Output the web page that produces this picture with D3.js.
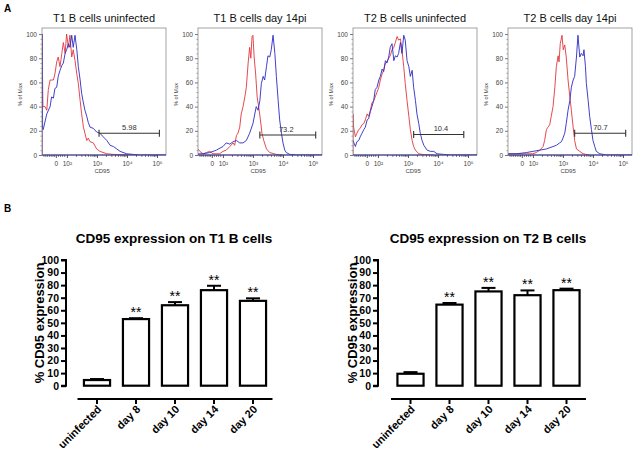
<!DOCTYPE html>
<html><head><meta charset="utf-8">
<script src="https://cdn.jsdelivr.net/npm/d3@7"></script>
<style>body{margin:0;background:#fff} svg{display:block;font-family:"Liberation Sans",Arial,sans-serif}</style>
</head><body>
<svg id="c" width="638" height="451"></svg>
<script>
// ---------- DATA ----------
// Panel A: histograms, x in display units (10^k -> k, "0" -> 1.63), y in % of Max
const flowTitles = ["T1 B cells uninfected", "T1 B cells day 14pi", "T2 B cells uninfected", "T2 B cells day 14pi"];
const flowXTickValues = [1.63, 2, 3, 4, 5];
const flowXTickLabels = ["0", "10\u00B2", "10\u00B3", "10\u2074", "10\u2075"];
const flowXMinorTicks = [1.22, 1.28, 1.34, 1.40, 1.46, 1.52, 1.57, 1.70, 1.77, 1.84, 1.91,
  2.30, 2.48, 2.60, 2.70, 2.78, 2.85, 2.90, 2.95,
  3.30, 3.48, 3.60, 3.70, 3.78, 3.85, 3.90, 3.95,
  4.30, 4.48, 4.60, 4.70, 4.78, 4.85, 4.90, 4.95];
const flowYTicks = [0, 20, 40, 60, 80, 100];
const flowYMinorTicks = [4, 8, 12, 16, 24, 28, 32, 36, 44, 48, 52, 56, 64, 68, 72, 76, 84, 88, 92, 96];

const p1Red = [[1.17,0],[1.17,100],[1.20,40],[1.27,40],[1.33,37],[1.38,54],[1.44,62],[1.55,62],[1.60,67],[1.66,77],[1.71,81],[1.77,73],[1.83,84],[1.88,93],[1.94,84],[1.99,100],[2.05,89],[2.10,99],[2.16,81],[2.21,87],[2.27,78],[2.33,67],[2.38,59],[2.44,45],[2.49,34],[2.55,23],[2.60,18],[2.66,12],[2.71,14],[2.77,11],[2.88,10],[2.99,5],[3.10,3],[3.33,1],[3.55,0.5],[4.21,0]];
const p1Blue = [[1.17,0],[1.17,100],[1.19,22],[1.21,21],[1.33,34],[1.44,40],[1.49,48],[1.55,47],[1.60,55],[1.66,56],[1.71,65],[1.77,70],[1.83,74],[1.88,76],[1.94,84],[1.99,87],[2.05,92],[2.10,89],[2.16,99],[2.21,89],[2.27,99],[2.33,87],[2.38,73],[2.44,62],[2.49,51],[2.55,43],[2.60,37],[2.66,32],[2.71,27],[2.77,23],[2.88,22],[2.99,19],[3.10,18],[3.21,15],[3.33,12],[3.44,8],[3.55,7],[3.66,5],[3.77,3],[3.99,1],[4.21,0.5],[4.44,0],[5.3,0]];
const p2Red = [[1.17,5],[1.23,3],[1.34,1],[1.45,2],[1.56,3],[1.67,1],[1.78,1],[1.89,1],[2.00,3],[2.11,4],[2.23,7],[2.34,10],[2.39,8],[2.45,16],[2.50,18],[2.56,23],[2.61,34],[2.67,40],[2.73,48],[2.78,56],[2.84,76],[2.89,89],[2.93,80],[2.97,98],[3.00,99],[3.04,81],[3.09,67],[3.14,48],[3.19,40],[3.25,29],[3.30,18],[3.36,12],[3.45,5],[3.56,2],[3.78,0.5],[4.00,0]];
const p2Blue = [[1.17,1],[1.34,1],[1.56,2],[1.78,4],[2.00,7],[2.11,10],[2.23,9],[2.34,11],[2.45,12],[2.56,10],[2.67,10],[2.78,12],[2.89,18],[3.00,26],[3.11,40],[3.17,37],[3.23,45],[3.28,59],[3.34,65],[3.39,62],[3.45,73],[3.50,82],[3.56,81],[3.61,87],[3.67,99],[3.73,84],[3.78,65],[3.84,45],[3.89,29],[3.95,18],[4.00,10],[4.06,4],[4.11,2],[4.23,0.5],[4.45,0],[5.3,0]];
const p3Red = [[1.17,0],[1.17,34],[1.19,23],[1.25,15],[1.30,18],[1.36,21],[1.41,22],[1.47,25],[1.53,26],[1.58,29],[1.64,34],[1.69,32],[1.75,37],[1.80,43],[1.86,45],[1.91,48],[1.97,52],[2.03,56],[2.08,62],[2.14,67],[2.19,70],[2.25,76],[2.30,77],[2.36,80],[2.41,82],[2.47,87],[2.53,89],[2.58,93],[2.64,98],[2.69,95],[2.75,96],[2.80,87],[2.86,73],[2.91,59],[2.97,45],[3.03,32],[3.08,21],[3.14,12],[3.19,7],[3.25,4],[3.36,1],[3.53,0.3],[3.86,0]];
const p3Blue = [[1.17,12],[1.25,7],[1.30,11],[1.36,12],[1.41,15],[1.47,18],[1.53,21],[1.58,23],[1.64,29],[1.69,30],[1.75,36],[1.80,40],[1.86,45],[1.91,54],[1.97,56],[2.03,62],[2.08,65],[2.14,71],[2.19,69],[2.25,78],[2.30,76],[2.36,81],[2.41,89],[2.47,92],[2.53,78],[2.58,82],[2.64,81],[2.69,84],[2.75,93],[2.80,84],[2.86,99],[2.91,95],[2.97,78],[3.03,73],[3.08,65],[3.14,70],[3.19,56],[3.25,45],[3.30,34],[3.36,26],[3.41,18],[3.47,12],[3.53,8],[3.64,4],[3.75,3],[3.86,3],[3.97,1],[4.19,0.5],[4.41,0],[5.3,0]];
const p4Red = [[1.17,1],[1.34,1],[1.56,1],[1.78,1],[2.00,1],[2.11,2],[2.23,4],[2.34,7],[2.39,12],[2.45,21],[2.50,23],[2.56,25],[2.61,32],[2.67,40],[2.73,56],[2.78,73],[2.84,82],[2.87,77],[2.91,92],[2.97,99],[3.01,87],[3.06,91],[3.11,81],[3.17,62],[3.23,48],[3.28,37],[3.34,23],[3.39,12],[3.45,5],[3.56,3],[3.67,1],[3.89,0]];
const p4Blue = [[1.17,1],[1.45,1],[1.78,2],[2.00,3],[2.23,4],[2.45,5],[2.67,7],[2.78,8],[2.89,10],[2.95,11],[3.00,14],[3.06,18],[3.11,26],[3.17,37],[3.23,45],[3.28,56],[3.34,62],[3.39,65],[3.45,81],[3.50,99],[3.56,81],[3.61,84],[3.67,82],[3.70,87],[3.75,73],[3.78,59],[3.84,45],[3.89,32],[3.95,21],[4.00,12],[4.06,7],[4.11,3],[4.23,1],[4.45,0],[5.3,0]];
const flowRed = [p1Red, p2Red, p3Red, p4Red];
const flowBlue = [p1Blue, p2Blue, p3Blue, p4Blue];
const gateStarts = [3.07, 3.23, 3.19, 3.39];
const gateEnds = [5.08, 5.09, 4.86, 5.09];
const gateLevels = [18, 16.5, 17, 18];
const gateLabels = ["5.98", "73.2", "10.4", "70.7"];
const gateLabelPos = [4.08, 4.11, 4.10, 4.25];

// Panel B: bar charts
const barCategories = ["uninfected", "day 8", "day 10", "day 14", "day 20"];
const barTitles = ["CD95 expression on T1 B cells", "CD95 expression on T2 B cells"];
const t1Means = [4.5, 53, 64, 76, 67.5];
const t1Errors = [0.8, 0.7, 2.5, 3.5, 2];
const t2Means = [9.5, 64.5, 75, 72, 76];
const t2Errors = [1.3, 1.3, 2.8, 3.8, 1.2];
const t1Signif = ["", "**", "**", "**", "**"];
const t2Signif = ["", "**", "**", "**", "**"];
const barYTicks = [0,10,20,30,40,50,60,70,80,90,100];

// ---------- DRAW ----------
const svg = d3.select("#c");
const RED = "#e2363c", BLUE = "#2a2ac4";

svg.append("text").attr("x", 4).attr("y", 12).attr("font-size", 10).attr("font-weight", "bold").text("A");
svg.append("text").attr("x", 4).attr("y", 212).attr("font-size", 10).attr("font-weight", "bold").text("B");

const flowLefts = [42, 198, 353, 508];
const FW = 124, FTOP = 28, FBOT = 155;

flowTitles.forEach((title, i) => {
  const L = flowLefts[i];
  const x = d3.scaleLinear().domain([1.17, 5.30]).range([L, L + FW]);
  const y = d3.scaleLinear().domain([0, 105]).range([FBOT, FTOP]);
  const g = svg.append("g");

  g.append("text").attr("x", L + FW / 2).attr("y", 22).attr("text-anchor", "middle")
    .attr("font-size", 11).attr("fill", "#111").text(title);

  const clipId = "clip" + i;
  g.append("clipPath").attr("id", clipId).append("rect")
    .attr("x", L).attr("y", FTOP - 1).attr("width", FW).attr("height", FBOT - FTOP + 1);

  const line = d3.line().x(d => x(d[0])).y(d => y(d[1]));
  g.append("path").datum(flowRed[i]).attr("d", line).attr("fill", "none")
    .attr("stroke", RED).attr("stroke-width", 0.9).attr("clip-path", `url(#${clipId})`);
  g.append("path").datum(flowBlue[i]).attr("d", line).attr("fill", "none")
    .attr("stroke", BLUE).attr("stroke-width", 0.9).attr("clip-path", `url(#${clipId})`);

  g.append("rect").attr("x", L).attr("y", FTOP).attr("width", FW).attr("height", FBOT - FTOP)
    .attr("fill", "none").attr("stroke", "#8c8c8c").attr("stroke-width", 0.8);

  // y axis
  const ya = g.append("g").attr("transform", `translate(${L},0)`)
    .call(d3.axisLeft(y).tickValues(flowYTicks).tickSize(3).tickPadding(2));
  ya.select(".domain").remove();
  ya.selectAll("line").attr("stroke", "#777");
  ya.selectAll("text").attr("font-size", 6.5).attr("fill", "#444").attr("font-family", "Liberation Sans, Arial");
  const yam = g.append("g").attr("transform", `translate(${L},0)`)
    .call(d3.axisLeft(y).tickValues(flowYMinorTicks).tickSize(1.5).tickFormat(""));
  yam.select(".domain").remove();
  yam.selectAll("line").attr("stroke", "#999");

  // x axis
  const xa = g.append("g").attr("transform", `translate(0,${FBOT})`)
    .call(d3.axisBottom(x).tickValues(flowXTickValues).tickSize(3).tickPadding(3)
      .tickFormat((d, k) => flowXTickLabels[k]));
  xa.select(".domain").remove();
  xa.selectAll("line").attr("stroke", "#555");
  xa.selectAll("text").attr("font-size", 6.5).attr("fill", "#444").attr("font-family", "Liberation Sans, Arial");
  const xam = g.append("g").attr("transform", `translate(0,${FBOT})`)
    .call(d3.axisBottom(x).tickValues(flowXMinorTicks).tickSize(1.8).tickFormat(""));
  xam.select(".domain").remove();
  xam.selectAll("line").attr("stroke", "#666");
  g.append("line").attr("x1", L).attr("x2", L + FW).attr("y1", FBOT).attr("y2", FBOT)
    .attr("stroke", "#2a2a8a").attr("stroke-width", 1);

  g.append("text").attr("x", x(3.17)).attr("y", 173).attr("text-anchor", "middle")
    .attr("font-size", 6).attr("fill", "#444").text("CD95");
  g.append("text").attr("transform", `translate(${L - 20},${(FTOP + FBOT) / 2 + 3}) rotate(-90)`)
    .attr("text-anchor", "middle").attr("font-size", 5.5).attr("fill", "#444").text("% of Max");

  // gate
  const gy = y(gateLevels[i]);
  g.append("line").attr("x1", x(gateStarts[i])).attr("x2", x(gateEnds[i])).attr("y1", gy).attr("y2", gy)
    .attr("stroke", "#333").attr("stroke-width", 1.1);
  [gateStarts[i], gateEnds[i]].forEach(v => {
    g.append("line").attr("x1", x(v)).attr("x2", x(v)).attr("y1", gy - 3.5).attr("y2", gy + 3.5)
      .attr("stroke", "#333").attr("stroke-width", 1.1);
  });
  g.append("text").attr("x", x(gateLabelPos[i])).attr("y", gy - 3).attr("text-anchor", "middle")
    .attr("font-size", 7.5).attr("fill", "#333").text(gateLabels[i]);
});

// bar charts
const barCharts = [
  { axisX: 66, xr: [77.5, 272.5], titleX: 174, ylabX: 44, means: t1Means, errs: t1Errors, sig: t1Signif, title: barTitles[0] },
  { axisX: 378, xr: [391, 586], titleX: 488, ylabX: 357, means: t2Means, errs: t2Errors, sig: t2Signif, title: barTitles[1] }
];
barCharts.forEach(c => {
  const g = svg.append("g");
  const y = d3.scaleLinear().domain([0, 100]).range([385.7, 260]);
  const x = d3.scaleBand().domain(barCategories).range(c.xr).paddingInner(0.33).paddingOuter(0.165);

  g.append("text").attr("x", c.titleX).attr("y", 243).attr("text-anchor", "middle")
    .attr("font-size", 13.5).attr("font-weight", "bold").attr("fill", "#000").text(c.title);

  const ya = g.append("g").attr("transform", `translate(${c.axisX},0)`)
    .call(d3.axisLeft(y).tickValues(barYTicks).tickSize(5).tickPadding(2));
  ya.select(".domain").attr("stroke", "#000").attr("stroke-width", 2);
  ya.selectAll("line").attr("stroke", "#000").attr("stroke-width", 2);
  ya.selectAll("text").attr("font-size", 10.5).attr("font-weight", "bold").attr("fill", "#000")
    .attr("font-family", "Liberation Sans, Arial");
  ya.select(".domain").attr("d", `M-5,${y(100)}H0V${y(0)}H-5`);

  g.append("text").attr("transform", `translate(${c.ylabX},${323}) rotate(-90)`)
    .attr("text-anchor", "middle").attr("font-size", 13).attr("font-weight", "bold").text("% CD95 expression");

  const xa = g.append("g").attr("transform", `translate(0,399)`)
    .call(d3.axisBottom(x).tickSize(5).tickSizeOuter(0).tickFormat(""));
  xa.select(".domain").attr("stroke", "#000").attr("stroke-width", 2).attr("d", `M${c.xr[0]},0H${c.xr[1]}`);
  xa.selectAll("line").attr("stroke", "#000").attr("stroke-width", 2);

  barCategories.forEach((cat, k) => {
    const cx = x(cat) + x.bandwidth() / 2;
    g.append("text").attr("transform", `translate(${cx + 5},${410}) rotate(-45)`)
      .attr("text-anchor", "end").attr("font-size", 11).attr("font-weight", "bold")
      .text(cat);
  });

  const gb = g.append("g");
  gb.selectAll("line.err").data(barCategories).join("line").attr("class", "err")
    .attr("x1", d => x(d) + x.bandwidth() / 2).attr("x2", d => x(d) + x.bandwidth() / 2)
    .attr("y1", (d, k) => y(c.means[k])).attr("y2", (d, k) => y(c.means[k] + c.errs[k]))
    .attr("stroke", "#000").attr("stroke-width", 2);
  gb.selectAll("line.cap").data(barCategories).join("line").attr("class", "cap")
    .attr("x1", d => x(d) + x.bandwidth() / 2 - 7).attr("x2", d => x(d) + x.bandwidth() / 2 + 7)
    .attr("y1", (d, k) => y(c.means[k] + c.errs[k])).attr("y2", (d, k) => y(c.means[k] + c.errs[k]))
    .attr("stroke", "#000").attr("stroke-width", 2);
  gb.selectAll("rect").data(barCategories).join("rect")
    .attr("x", d => x(d)).attr("width", x.bandwidth())
    .attr("y", (d, k) => y(c.means[k])).attr("height", (d, k) => y(0) - y(c.means[k]))
    .attr("fill", "#fff").attr("stroke", "#000").attr("stroke-width", 2.2);
  gb.selectAll("text").data(barCategories).join("text")
    .attr("x", d => x(d) + x.bandwidth() / 2)
    .attr("y", (d, k) => y(c.means[k] + c.errs[k]) - 1)
    .attr("text-anchor", "middle").attr("font-size", 14).attr("fill", "#000")
    .text((d, k) => c.sig[k]);
});
</script></body></html>
